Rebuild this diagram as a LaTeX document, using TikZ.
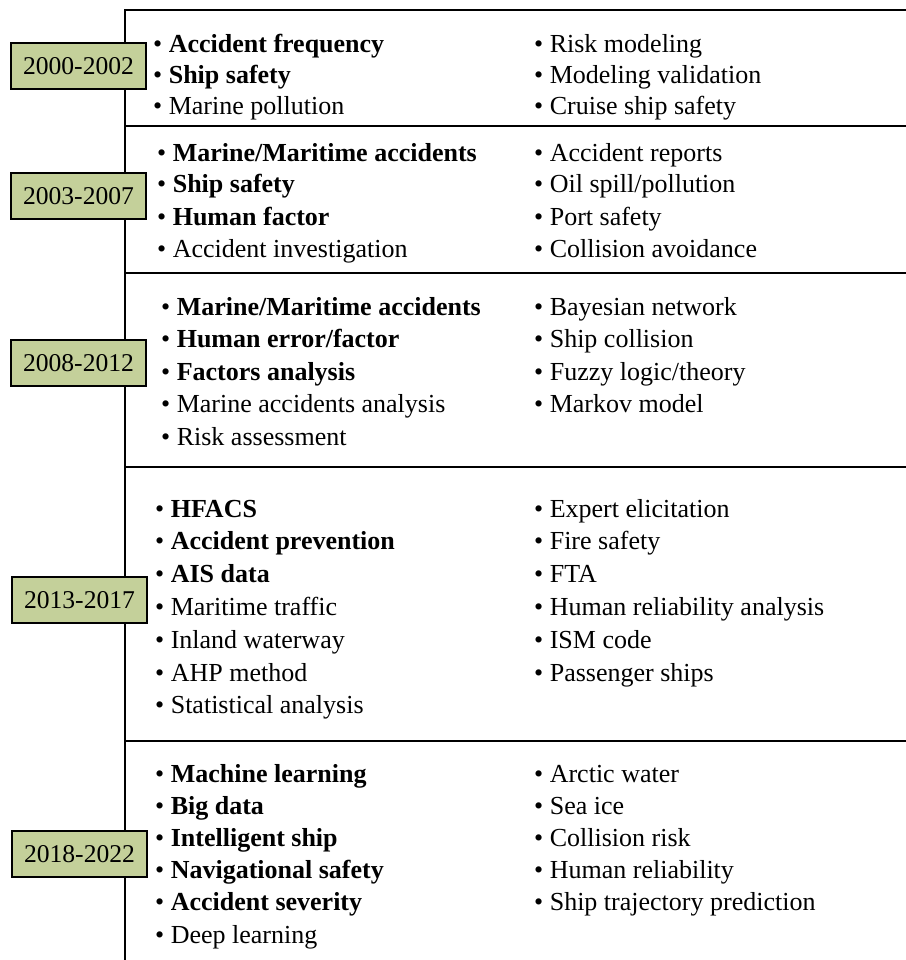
\documentclass[tikz,border=0pt]{standalone}
\usepackage{fontspec}
\setmainfont{Liberation Serif}
\definecolor{yearfill}{RGB}{196,208,154}
\newcommand\itm[1]{\textbullet\ #1}
\begin{document}
\begin{tikzpicture}[x=1pt,y=-1pt,
  rule/.style={line width=2.2pt,line cap=rect},
  spine/.style={line width=2pt},
  yearbox/.style={draw,line width=2pt,fill=yearfill,minimum width=135pt,minimum height=46pt,inner sep=0pt,font=\fontsize{25.6}{30}\selectfont},
  item/.style={anchor=base west,inner sep=0pt,font=\fontsize{26}{30}\selectfont}]
\useasboundingbox (0,0) rectangle (905,960);

% timeline spine and period separators
\coordinate (top) at (125,10);
\coordinate (bottom) at (125,960);
\draw[spine] (top) -- (bottom);
\foreach \y/\n in {10/r0,126/r1,273/r2,467/r3,741/r4}{
  \coordinate (\n-a) at (125,\y);
  \coordinate (\n-b) at (906,\y);
  \draw[rule] (\n-a) -- (\n-b);
}

% period labels
\node[yearbox] (p1) at (78.5,66) {2000-2002};
\node[yearbox] (p2) at (78.5,196) {2003-2007};
\node[yearbox] (p3) at (78.5,363) {2008-2012};
\node[yearbox] (p4) at (79.5,600) {2013-2017};
\node[yearbox] (p5) at (79.5,854) {2018-2022};

% 2000-2002
\foreach \t [count=\i from 0] in {{\textbf{Accident frequency}},{\textbf{Ship safety}},{Marine pollution}}
  \node[item] (a-l\i) at (153,53+31*\i) {\itm{\t}};
\foreach \t [count=\i from 0] in {{Risk modeling},{Modeling validation},{Cruise ship safety}}
  \node[item] (a-r\i) at (534,53+31*\i) {\itm{\t}};

% 2003-2007
\foreach \t [count=\i from 0] in {{\textbf{Marine/Maritime accidents}},{\textbf{Ship safety}},{\textbf{Human factor}},{Accident investigation}}
  \node[item] (b-l\i) at (157,161+32*\i) {\itm{\t}};
\foreach \t [count=\i from 0] in {{Accident reports},{Oil spill/pollution},{Port safety},{Collision avoidance}}
  \node[item] (b-r\i) at (534,161+32*\i) {\itm{\t}};

% 2008-2012
\foreach \t [count=\i from 0] in {{\textbf{Marine/Maritime accidents}},{\textbf{Human error/factor}},{\textbf{Factors analysis}},{Marine accidents analysis},{Risk assessment}}
  \node[item] (c-l\i) at (161,315+32.5*\i) {\itm{\t}};
\foreach \t [count=\i from 0] in {{Bayesian network},{Ship collision},{Fuzzy logic/theory},{Markov model}}
  \node[item] (c-r\i) at (534,315+32.5*\i) {\itm{\t}};

% 2013-2017
\foreach \t [count=\i from 0] in {{\textbf{HFACS}},{\textbf{Accident prevention}},{\textbf{AIS data}},{Maritime traffic},{Inland waterway},{AHP method},{Statistical analysis}}
  \node[item] (d-l\i) at (155,517+32.8*\i) {\itm{\t}};
\foreach \t [count=\i from 0] in {{Expert elicitation},{Fire safety},{FTA},{Human reliability analysis},{ISM code},{Passenger ships}}
  \node[item] (d-r\i) at (534,517+32.8*\i) {\itm{\t}};

% 2018-2022
\foreach \t [count=\i from 0] in {{\textbf{Machine learning}},{\textbf{Big data}},{\textbf{Intelligent ship}},{\textbf{Navigational safety}},{\textbf{Accident severity}},{Deep learning}}
  \node[item] (e-l\i) at (155,782+32.2*\i) {\itm{\t}};
\foreach \t [count=\i from 0] in {{Arctic water},{Sea ice},{Collision risk},{Human reliability},{Ship trajectory prediction}}
  \node[item] (e-r\i) at (534,782+32.2*\i) {\itm{\t}};
\end{tikzpicture}
\end{document}
